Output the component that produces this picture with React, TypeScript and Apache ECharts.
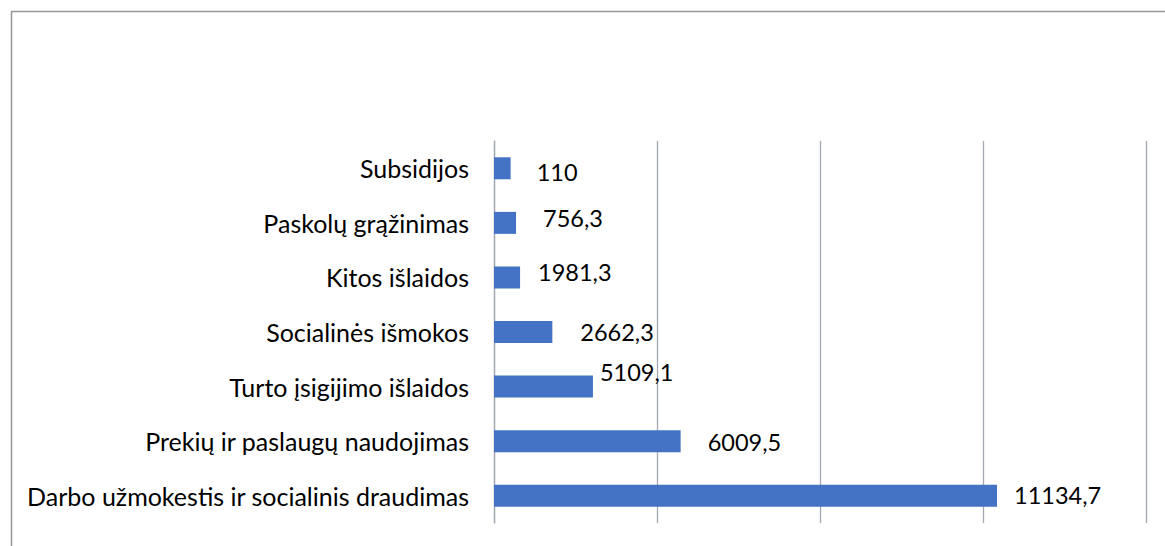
import React, { useEffect, useRef } from "react";
import * as echarts from "echarts";

// Categories listed bottom to top
const categories = [
  "Darbo užmokestis ir socialinis draudimas",
  "Prekių ir paslaugų naudojimas",
  "Turto įsigijimo išlaidos",
  "Socialinės išmokos",
  "Kitos išlaidos",
  "Paskolų grąžinimas",
  "Subsidijos",
];
// Bar lengths (axis scale 0..4000)
const barValues = [3086, 1145, 607, 358, 160, 135, 102];
// Data-label texts as printed on the chart
const labelTexts = ["11134,7", "6009,5", "5109,1", "2662,3", "1981,3", "756,3", "110"];
// Manual label nudges [dx, dy] (labels were moved by hand in the source)
const labelNudges: [number, number][] = [
  [17, -1],
  [27, 1],
  [7, -15],
  [28, 0],
  [18, -5],
  [27, -5],
  [26, 4],
];
const axisMin = 0;
const axisMax = 4000;
const axisInterval = 1000;

export default function App() {
  const ref = useRef<HTMLDivElement>(null);
  useEffect(() => {
    document.body.style.margin = "0";
    if (!ref.current) return;
    const chart = echarts.init(ref.current, undefined, { renderer: "svg" });
    const font = "Lato, 'Open Sans', sans-serif";
    chart.setOption({
      animation: false,
      backgroundColor: "#ffffff",
      graphic: [
        {
          type: "rect",
          shape: { x: 11.5, y: 11.5, width: 1200, height: 600 },
          style: { fill: "none", stroke: "#969696", lineWidth: 1.5 },
          silent: true,
        },
      ],
      grid: { left: 494, right: 19, top: 141, bottom: 23 },
      xAxis: {
        type: "value",
        min: axisMin,
        max: axisMax,
        interval: axisInterval,
        axisLabel: { show: false },
        axisLine: { show: false },
        axisTick: { show: false },
        splitLine: { show: true, lineStyle: { color: "#a4a7b4", width: 1.3 } },
      },
      yAxis: {
        type: "category",
        data: categories,
        axisTick: { show: false },
        axisLine: { show: true, lineStyle: { color: "#a4a7b4", width: 1.3 } },
        axisLabel: { color: "#000000", fontFamily: font, fontSize: 25, margin: 25 },
      },
      series: [
        {
          type: "bar",
          barWidth: 22,
          itemStyle: { color: "#4472C4" },
          data: barValues.map((v, i) => ({
            value: v,
            label: {
              show: true,
              position: "right",
              distance: 0,
              offset: labelNudges[i],
              formatter: () => labelTexts[i],
              color: "#000000",
              fontFamily: font,
              fontSize: 23.5,
            },
          })),
        },
      ],
    });
    return () => chart.dispose();
  }, []);
  return <div ref={ref} style={{ width: 1165, height: 546 }} />;
}
